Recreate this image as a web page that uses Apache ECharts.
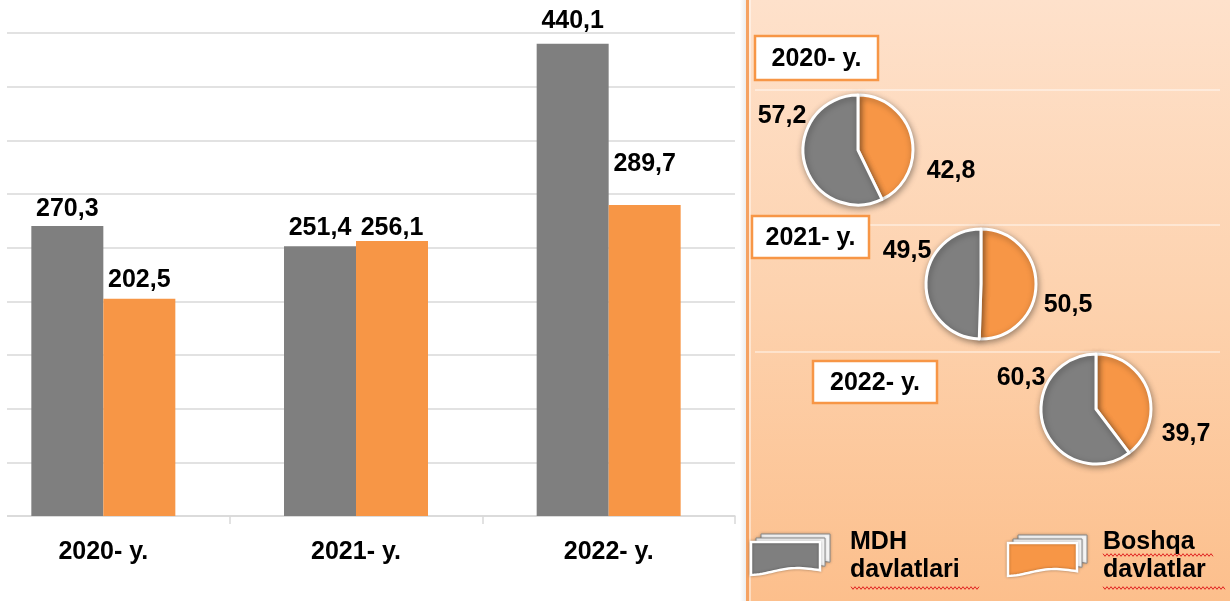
<!DOCTYPE html>
<html>
<head>
<meta charset="utf-8">
<script src="https://cdn.jsdelivr.net/npm/echarts@6/dist/echarts.min.js"></script>
<style>
html,body{margin:0;padding:0;background:#fff;}
#chart{width:1230px;height:601px;}
</style>
</head>
<body>
<div id="chart"></div>
<script>
// ---------- data ----------
const categories = ['2020- y.', '2021- y.', '2022- y.'];
const seriesNames = ['MDH davlatlari', 'Boshqa davlatlar'];
const mdhValues = [270.3, 251.4, 440.1];
const boshqaValues = [202.5, 256.1, 289.7];
const pieYears = ['2020- y.', '2021- y.', '2022- y.'];
const pieMdhShares = [57.2, 49.5, 60.3];
const pieBoshqaShares = [42.8, 50.5, 39.7];
const legendLines = [['MDH', 'davlatlari'], ['Boshqa', 'davlatlar']];

// ---------- styles / layout ----------
const GRAY = '#7f7f7f';
const ORANGE = '#f79646';
const FONT = '"Liberation Sans", Arial, sans-serif';
const FS = 25;
const barLabelDist = [[4, 6, 10], [6, 1, 28]];
const pieCenters = [[858, 150], [981, 284], [1096, 409]];
const pieRadius = 55;
// [orange label, gray label] positions
const pieLabelPos = [
  [[951, 171], [782, 116]],
  [[1068, 305], [907, 251]],
  [[1186, 434], [1021, 378]]
];
const yearBoxes = [[755, 36, 123, 44], [752, 216, 117, 42], [813, 361, 124, 42]];
const fmt = v => v.toFixed(1).replace('.', ',');

const chart = echarts.init(document.getElementById('chart'), null, {renderer: 'canvas'});

function barSeries(name, values, color, si) {
  return {
    name: name,
    type: 'bar',
    barWidth: 72,
    barGap: '0%',
    itemStyle: {color: color},
    data: values.map((v, i) => ({
      value: v,
      label: {distance: barLabelDist[si][i]}
    })),
    label: {
      show: true,
      position: 'top',
      formatter: p => fmt(p.value),
      color: '#000',
      fontFamily: FONT,
      fontWeight: 'bold',
      fontSize: FS
    }
  };
}

function pieSeries(k) {
  return {
    type: 'pie',
    center: pieCenters[k],
    radius: pieRadius,
    startAngle: 90,
    clockwise: true,
    avoidLabelOverlap: false,
    z: 4,
    itemStyle: {
      borderColor: '#ffffff',
      borderWidth: 3,
      shadowBlur: 6,
      shadowOffsetX: 1,
      shadowOffsetY: 2,
      shadowColor: 'rgba(0,0,0,0.35)'
    },
    label: {
      show: true,
      position: 'outside',
      formatter: p => fmt(p.value),
      color: '#000',
      fontFamily: FONT,
      fontWeight: 'bold',
      fontSize: FS
    },
    labelLine: {show: false},
    labelLayout: function (params) {
      const pos = pieLabelPos[k][params.dataIndex];
      return {x: pos[0], y: pos[1], align: 'center', verticalAlign: 'middle'};
    },
    emphasis: {disabled: true},
    data: [
      {name: seriesNames[1], value: pieBoshqaShares[k], itemStyle: {color: ORANGE}},
      {name: seriesNames[0], value: pieMdhShares[k], itemStyle: {color: GRAY}}
    ]
  };
}

function wavePoints(x0, x1, y) {
  const pts = [];
  let up = true;
  for (let x = x0; x <= x1; x += 2) {
    pts.push([x, y + (up ? -1.3 : 1.3)]);
    up = !up;
  }
  return pts;
}

function platePoints(x, y, w, h) {
  // rectangle with a gently wavy bottom edge
  const pts = [[x, y], [x + w, y]];
  const n = 24;
  for (let i = 0; i <= n; i++) {
    const t = i / n;
    const px = x + w * (1 - t);
    const py = y + h - 3.5 + 2.5 * Math.sin(t * Math.PI * 1.6 - 0.3) * -1 + 3 * t;
    pts.push([px, py]);
  }
  return pts;
}

function legendIcon(x, y, color) {
  const w = 69, h = 31;
  const els = [];
  [[10, -8], [5, -4]].forEach(off => {
    els.push({
      type: 'polygon', z: 6, silent: true,
      shape: {points: platePoints(x + off[0], y + off[1], w, h)},
      style: {fill: '#ffffff', stroke: '#8a8a8a', lineWidth: 1,
        shadowBlur: 3, shadowColor: 'rgba(0,0,0,0.25)'}
    });
  });
  els.push({
    type: 'polygon', z: 7, silent: true,
    shape: {points: platePoints(x, y, w, h)},
    style: {fill: color, stroke: '#ffffff', lineWidth: 2.5,
      shadowBlur: 3, shadowColor: 'rgba(0,0,0,0.3)'}
  });
  return els;
}

const graphics = [];
// right panel background
graphics.push({
  type: 'rect', z: 0, silent: true,
  shape: {x: 740, y: 0, width: 6, height: 601},
  style: {fill: new echarts.graphic.LinearGradient(0, 0, 1, 0, [
    {offset: 0, color: 'rgba(0,0,0,0)'}, {offset: 1, color: 'rgba(0,0,0,0.07)'}])}
});
graphics.push({
  type: 'rect', z: 0, silent: true,
  shape: {x: 746, y: 0, width: 484, height: 601},
  style: {fill: new echarts.graphic.LinearGradient(0, 0, 0, 1, [
    {offset: 0, color: '#fee1cb'}, {offset: 0.5, color: '#fdd2ae'}, {offset: 1, color: '#fcbf8c'}])}
});
graphics.push({
  type: 'rect', z: 1, silent: true,
  shape: {x: 746, y: 0, width: 3, height: 601},
  style: {fill: '#f5a262'}
});
graphics.push({
  type: 'rect', z: 1, silent: true,
  shape: {x: 749, y: 0, width: 2, height: 601},
  style: {fill: 'rgba(255,255,255,0.45)'}
});
// faint separator lines in panel
[90, 225, 352].forEach(y => {
  graphics.push({
    type: 'line', z: 1, silent: true,
    shape: {x1: 755, y1: y, x2: 1220, y2: y},
    style: {stroke: 'rgba(255,255,255,0.55)', lineWidth: 1.5}
  });
});
// cover left start of grid lines
graphics.push({
  type: 'rect', z: 3, silent: true,
  shape: {x: 0, y: 20, width: 7, height: 510},
  style: {fill: '#ffffff'}
});
// year boxes
yearBoxes.forEach((b, k) => {
  graphics.push({
    type: 'rect', z: 8, silent: true,
    shape: {x: b[0], y: b[1], width: b[2], height: b[3]},
    style: {fill: '#ffffff', stroke: ORANGE, lineWidth: 2.5}
  });
  graphics.push({
    type: 'text', z: 9, silent: true,
    x: b[0] + b[2] / 2, y: b[1] + b[3] / 2 + 1,
    style: {text: pieYears[k], fill: '#000', font: 'bold ' + FS + 'px ' + FONT,
      align: 'center', verticalAlign: 'middle'}
  });
});
// legend
const legendIconPos = [[751, 542], [1008, 543]];
const legendTextX = [850, 1103];
const legendColors = [GRAY, ORANGE];
legendIconPos.forEach((p, k) => {
  legendIcon(p[0], p[1], legendColors[k]).forEach(e => graphics.push(e));
  legendLines[k].forEach((t, j) => {
    graphics.push({
      type: 'text', z: 9, silent: true,
      x: legendTextX[k], y: 542 + j * 28,
      style: {text: t, fill: '#000', font: 'bold ' + FS + 'px ' + FONT,
        align: 'left', verticalAlign: 'middle'}
    });
  });
});
// spell-check style wavy underlines
[[851, 980, 588], [1103, 1214, 555], [1103, 1226, 588]].forEach(w => {
  graphics.push({
    type: 'polyline', z: 9, silent: true,
    shape: {points: wavePoints(w[0], w[1], w[2])},
    style: {stroke: '#e02020', lineWidth: 1, fill: null}
  });
});

const option = {
  backgroundColor: '#ffffff',
  animation: false,
  grid: {left: -23, width: 758, top: 33, bottom: 85, containLabel: false, outerBoundsMode: 'none'},
  xAxis: {
    type: 'category',
    data: categories,
    axisLine: {lineStyle: {color: '#d9d9d9', width: 1.5}},
    axisTick: {show: true, length: 8, lineStyle: {color: '#d9d9d9', width: 1.5}},
    axisLabel: {color: '#000', fontFamily: FONT, fontWeight: 'bold', fontSize: FS, margin: 24}
  },
  yAxis: {
    type: 'value',
    min: 0, max: 450, interval: 50,
    axisLabel: {show: false},
    axisLine: {show: false},
    axisTick: {show: false},
    splitLine: {lineStyle: {color: '#d9d9d9', width: 1.5}}
  },
  series: [
    barSeries(seriesNames[0], mdhValues, GRAY, 0),
    barSeries(seriesNames[1], boshqaValues, ORANGE, 1),
    pieSeries(0), pieSeries(1), pieSeries(2)
  ],
  graphic: graphics
};
chart.setOption(option);
</script>
</body>
</html>
